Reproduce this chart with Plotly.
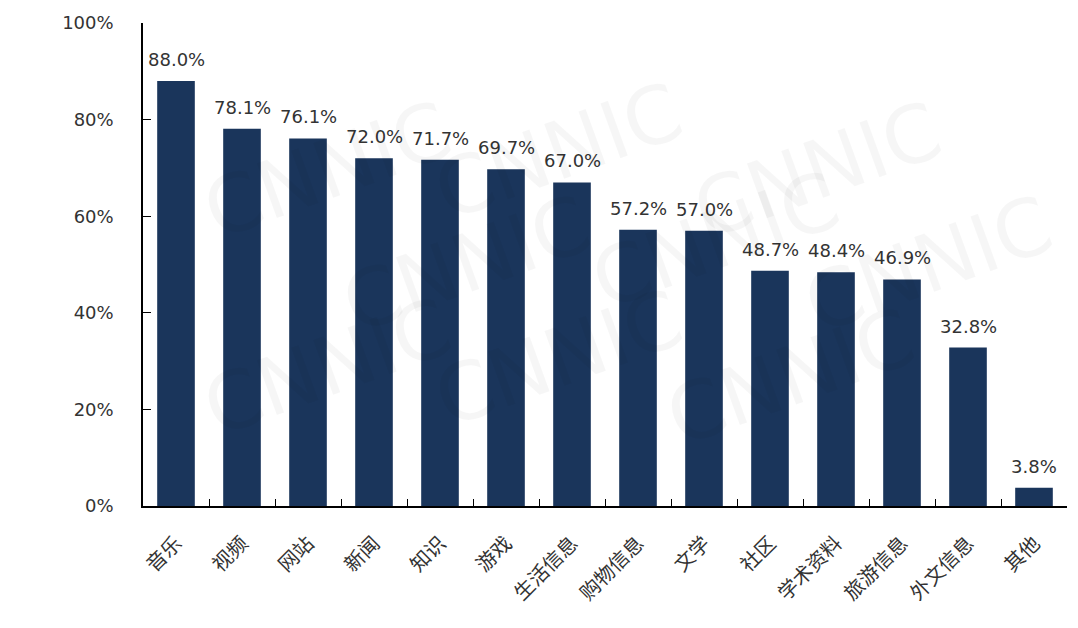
import plotly.graph_objects as go

categories = ["音乐", "视频", "网站", "新闻", "知识", "游戏", "生活信息", "购物信息",
              "文学", "社区", "学术资料", "旅游信息", "外文信息", "其他"]
values = [88.0, 78.1, 76.1, 72.0, 71.7, 69.7, 67.0, 57.2, 57.0, 48.7, 48.4, 46.9, 32.8, 3.8]
y_ticks = [0, 20, 40, 60, 80, 100]
y_tick_labels = ["0%", "20%", "40%", "60%", "80%", "100%"]

fig = go.Figure()
fig.add_trace(go.Bar(
    x=categories, y=values,
    marker=dict(color="#1a355b", line=dict(width=0)),
    width=0.57,
))

for c, v in zip(categories, values):
    fig.add_annotation(x=c, y=v, text=f"{v:.1f}%", showarrow=False,
                       yanchor="bottom", yshift=9,
                       font=dict(family="DejaVu Sans", size=18, color="#333333"))

# faint watermark
for (px, py) in [(0.05, 0.88), (0.45, 0.92), (0.88, 0.88),
                 (0.2, 0.5), (0.62, 0.55), (1.0, 0.5),
                 (0.05, 0.1), (0.45, 0.12), (0.85, 0.08)]:
    fig.add_annotation(x=px, y=py, xref="paper", yref="paper", text="CNNIC",
                       showarrow=False, textangle=-20,
                       font=dict(family="DejaVu Sans", size=80, color="rgba(0,0,0,0.035)"))

fig.update_layout(
    width=1078, height=628,
    margin=dict(l=143, r=11, t=23, b=122),
    paper_bgcolor="white", plot_bgcolor="rgba(0,0,0,0)",
    showlegend=False,
    xaxis=dict(
        showline=True, linecolor="black", linewidth=1.5,
        ticks="inside", tickson="boundaries", ticklen=7, tickcolor="black",
        tickangle=-45, ticklabelstandoff=16,
        tickfont=dict(family="Noto Sans CJK SC", size=20, color="#333333"),
    ),
    yaxis=dict(
        range=[0, 100], tickvals=y_ticks, ticktext=y_tick_labels,
        showline=True, linecolor="black", linewidth=1.5,
        ticks="inside", ticklen=8, tickcolor="black",
        showgrid=False, zeroline=False,
        ticklabelstandoff=24,
        tickfont=dict(family="DejaVu Sans", size=18, color="#333333"),
    ),
)

fig.write_html("out.html")
